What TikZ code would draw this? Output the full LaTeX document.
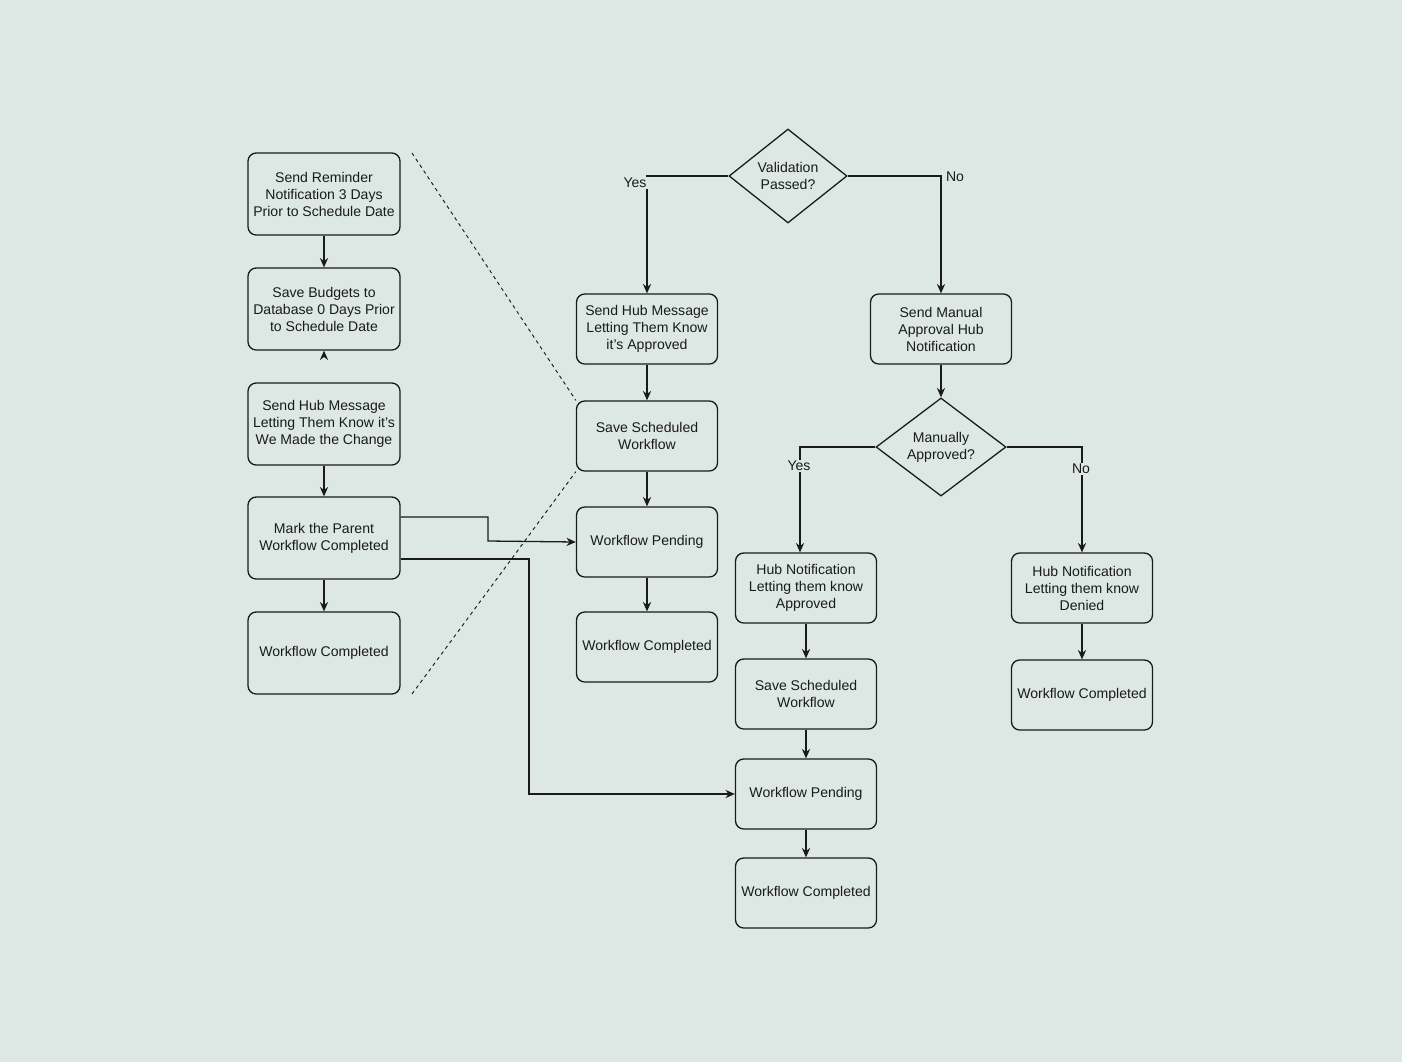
\documentclass[tikz,border=0pt]{standalone}
\usepackage{fontspec}
\setmainfont{Liberation Sans}
\usetikzlibrary{shapes.geometric,arrows.meta}
\definecolor{bgcol}{HTML}{DDE8E4}
\definecolor{ink}{HTML}{1A1A1A}
\tikzset{
  box/.style={draw=ink, line width=1.1pt, rounded corners=7pt, align=center, font=\fontsize{12}{14.5}\selectfont, text=ink},
  wide/.style={box, minimum width=4.56cm, minimum height=2.46cm},
  narrow/.style={box, minimum width=4.23cm, minimum height=2.1cm},
  decision/.style={draw=ink, line width=1.1pt, diamond, inner sep=0pt, align=center, font=\fontsize{12}{14.5}\selectfont, text=ink},
  flow/.style={draw=ink, line width=1.1pt, -{Stealth[length=8pt,width=7pt]}},
  lbl/.style={fill=bgcol, inner sep=1pt, font=\fontsize{12}{14}\selectfont, text=ink}
}
\begin{document}
\begin{tikzpicture}[x=0.03cm, y=-0.03cm]
  \fill[bgcol] (0,0) rectangle (1402,1062);
  \useasboundingbox (0,0) rectangle (1402,1062);

  % left column
  \node[wide] (remind) at (324,194) {Send Reminder\\Notification 3 Days\\Prior to Schedule Date};
  \node[wide] (budget) at (324,309) {Save Budgets to\\Database 0 Days Prior\\to Schedule Date};
  \node[wide] (change) at (324,424) {Send Hub Message\\Letting Them Know it's\\We Made the Change};
  \node[wide] (parent) at (324,538) {Mark the Parent\\Workflow Completed};
  \node[wide] (doneL) at (324,653) {Workflow Completed};

  % middle column
  \node[decision, minimum width=3.54cm, minimum height=2.82cm] (valid) at (788,176) {Validation\\Passed?};
  \node[narrow] (approvedMsg) at (647,329) {Send Hub Message\\Letting Them Know\\it's Approved};
  \node[narrow] (saveA) at (647,436) {Save Scheduled\\Workflow};
  \node[narrow] (pendA) at (647,542) {Workflow Pending};
  \node[narrow] (doneA) at (647,647) {Workflow Completed};

  % right branch
  \node[narrow] (manual) at (941,329) {Send Manual\\Approval Hub\\Notification};
  \node[decision, minimum width=3.9cm, minimum height=2.8cm] (manOk) at (941,447) {Manually\\Approved?};
  \node[narrow] (hubYes) at (806,588) {Hub Notification\\Letting them know\\Approved};
  \node[narrow] (saveB) at (806,694) {Save Scheduled\\Workflow};
  \node[narrow] (pendB) at (806,794) {Workflow Pending};
  \node[narrow] (doneB) at (806,893) {Workflow Completed};
  \node[narrow] (hubNo) at (1082,588) {Hub Notification\\Letting them know\\Denied};
  \node[narrow] (doneC) at (1082,695) {Workflow Completed};

  % connectors
  \draw[flow] (remind) -- (budget);
  \coordinate (stub) at (324,354);
  \draw[flow] (stub) -- (budget.south);
  \draw[flow] (change) -- (parent);
  \draw[flow] (parent) -- (doneL);
  \draw[flow] (valid.west) -| (approvedMsg.north);
  \draw[flow] (valid.east) -| (manual.north);
  \draw[flow] (approvedMsg) -- (saveA);
  \draw[flow] (saveA) -- (pendA);
  \draw[flow] (pendA) -- (doneA);
  \draw[flow] (manual) -- (manOk);
  \draw[flow] (manOk.west) -| (800,520) -- ([xshift=-0.18cm]hubYes.north);
  \draw[flow] (manOk.east) -| (hubNo.north);
  \draw[flow] (hubYes) -- (saveB);
  \draw[flow] (saveB) -- (pendB);
  \draw[flow] (pendB) -- (doneB);
  \draw[flow] (hubNo) -- (doneC);
  \draw[flow] (parent.east |- 0,517) -| (488,541) -- (pendA.west);
  \draw[flow] (parent.east |- 0,559) -| (529,794) -- (pendB.west);

  % zoom lines
  \draw[ink, thick, dashed] (412,153) -- (saveA.north west);
  \draw[ink, thick, dashed] (412,694) -- (saveA.south west);

  \node[lbl] (yes1) at (635,183) {Yes};
  \node[lbl] (no1) at (955,177) {No};
  \node[lbl] (yes2) at (799,466) {Yes};
  \node[lbl] (no2) at (1081,469) {No};
\end{tikzpicture}
\end{document}
